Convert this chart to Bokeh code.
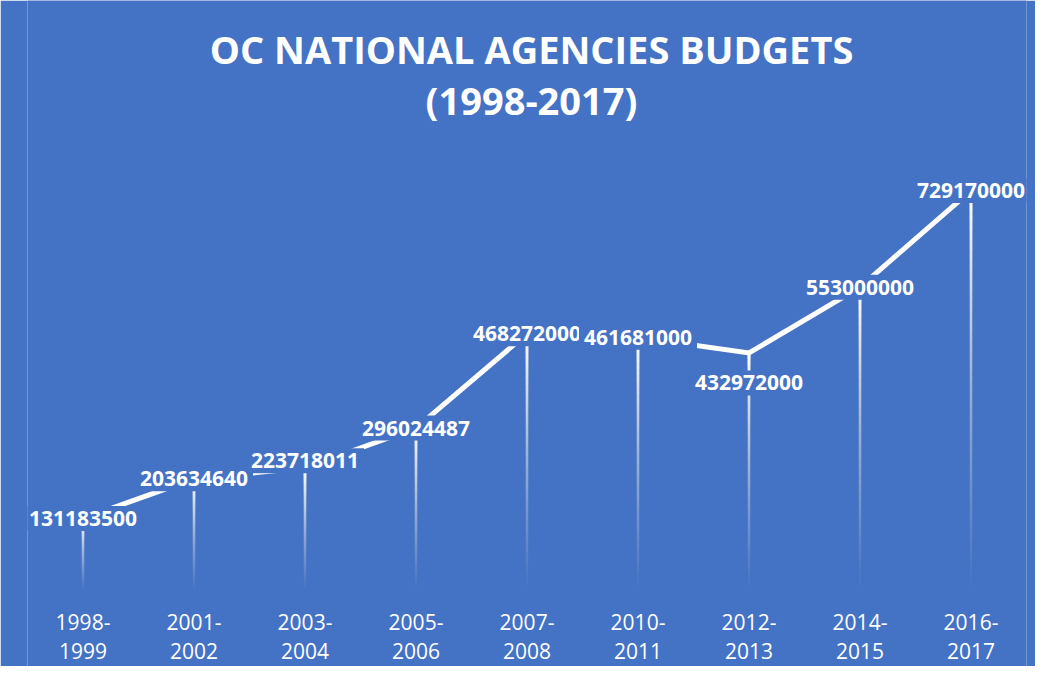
from bokeh.plotting import figure
from bokeh.models import ColumnDataSource, Label, Range1d
from bokeh.core.properties import value
from bokeh.embed import file_html
from bokeh.resources import INLINE

# ---- data ----
periods = ["1998-1999", "2001-2002", "2003-2004", "2005-2006", "2007-2008",
           "2010-2011", "2012-2013", "2014-2015", "2016-2017"]
budgets = [131183500, 203634640, 223718011, 296024487, 468272000,
           461681000, 432972000, 553000000, 729170000]
tick_labels = ["1998-\n1999", "2001-\n2002", "2003-\n2004", "2005-\n2006", "2007-\n2008",
               "2010-\n2011", "2012-\n2013", "2014-\n2015", "2016-\n2017"]
title_lines = ["OC NATIONAL AGENCIES BUDGETS", "(1998-2017)"]

# ---- style ----
BG = "#4472C4"
label_dy = [0, 0, -7, 0, 0, 0, 30, 0, 0]   # pixel nudges of data labels (screen, + = down)

W, H = 1035, 666
p = figure(x_range=periods, y_range=Range1d(-138.6e6, 1075.6e6),
           width=W, height=H, output_backend="svg", toolbar_location=None,
           x_axis_location=None, y_axis_location=None,
           min_border_left=27, min_border_right=9, min_border_top=0, min_border_bottom=0)
p.background_fill_color = BG
p.border_fill_color = BG
p.outline_line_color = None
p.xgrid.visible = False
p.ygrid.visible = False

# gradient drop lines: stacked translucent pieces that all reach the point,
# so the opacity builds up smoothly from the base to the top
N = 40
x0, y0, y1, al = [], [], [], []
for c, v in zip(periods, budgets):
    prev = 0.0
    for k in range(1, N + 1):
        g = (k - 0.5) / N
        a = 1 - (1 - g) / (1 - prev)
        prev = g
        x0.append(c)
        y0.append(v * (k - 1) / N)
        y1.append(v)
        al.append(a)
p.segment(x0="x", y0="y0", x1="x", y1="y1", line_alpha="a", line_color="white", line_width=2.6,
          source=ColumnDataSource(dict(x=x0, y0=y0, y1=y1, a=al)))

# connecting line
p.line(x=periods, y=budgets, line_color="white", line_width=5, line_join="miter")

# data labels with background boxes
src = ColumnDataSource(dict(x=periods, y=budgets, t=[str(b) for b in budgets], dy=label_dy))
p.text(x="x", y="y", text="t", y_offset="dy", source=src,
       text_align="center", text_baseline="middle",
       text_font=value("Open Sans"), text_font_style="bold", text_font_size="21px",
       text_color="white", background_fill_color=BG, background_fill_alpha=1.0,
       padding=5)

# category labels under the baseline (two lines each)
p.text(x=periods, y=[0] * len(periods), text=tick_labels, y_offset=46,
       text_align="center", text_baseline="middle", text_line_height=1.02,
       text_font=value("Open Sans"), text_font_size="21px", text_color="white")

# title
for txt, yy in zip(title_lines, [618, 567]):
    p.add_layout(Label(x=504, y=yy, x_units="screen", y_units="screen", text=txt,
                       text_align="center", text_baseline="middle", text_font="Open Sans",
                       text_font_style="bold", text_font_size="38px", text_color="white"))

open("out.html", "w").write(file_html(p, INLINE))
